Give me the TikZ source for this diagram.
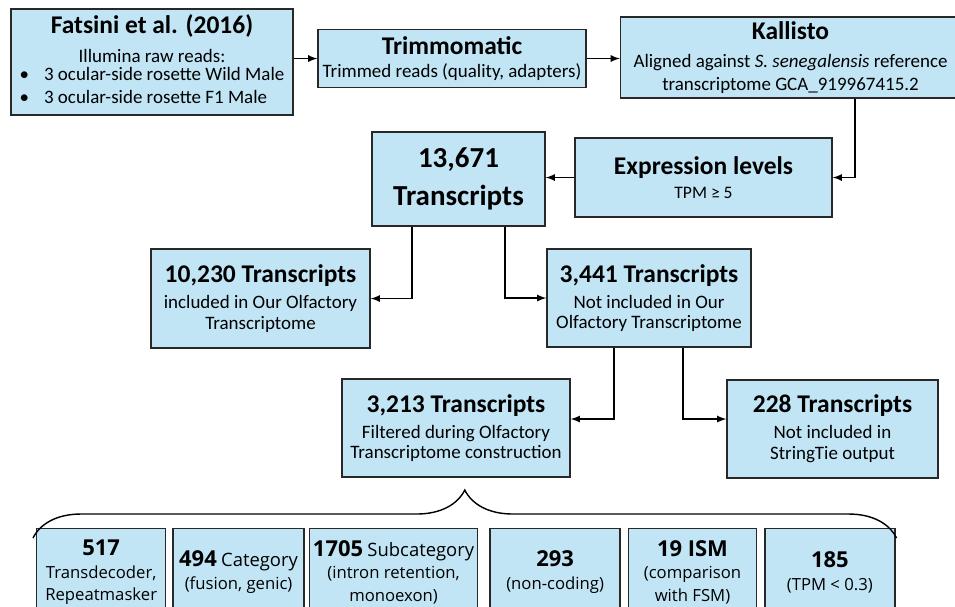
\documentclass[tikz,border=0pt]{standalone}
\usepackage{fontspec}
\setmainfont{Carlito}
\newfontfamily\lowfont{Open Sans}
\usetikzlibrary{
arrows,
arrows.meta,
calc,
decorations.pathreplacing,
positioning,
shapes
}
\tikzset{>=latex}
\definecolor{boxblue}{RGB}{193,229,245}
\definecolor{boxline}{RGB}{40,40,40}
\newcommand{\boxtitle}[1]{{\fontsize{14.5}{16}\selectfont\bfseries #1}}
\newcommand{\numtitle}[1]{{\fontsize{12.5}{15}\selectfont\bfseries #1}}

\begin{document}
\begin{tikzpicture}[x=0.02cm, y=-0.02cm, font=\fontsize{10.8}{11.8}\selectfont,
		stage/.style={draw=boxline,fill=boxblue,line width=0.8pt,align=center,inner sep=2pt},
		catbox/.style={stage,anchor=north west,minimum height=1.74cm,font=\lowfont\fontsize{9.5}{13}\selectfont},
		link/.style={->,line width=0.8pt}]
		\useasboundingbox (0,0) rectangle (955,606);

		% pipeline
		\node[stage,minimum width=5.64cm,minimum height=2.12cm] (fats) at (152,62)
			{\boxtitle{Fatsini et al. (2016)}\\[5pt] Illumina raw reads:\\[1pt]
			\begin{tabular}{@{}l@{}}\textbullet\hspace{0.3cm}3 ocular-side rosette Wild Male\\[1pt] \textbullet\hspace{0.3cm}3 ocular-side rosette F1 Male\end{tabular}};
		\node[stage,minimum width=5.36cm,minimum height=1.16cm] (trim) at (452,58.5)
			{\boxtitle{Trimmomatic}\\[1pt] Trimmed reads (quality, adapters)};
		\node[stage,minimum width=6.8cm,minimum height=1.62cm] (kall) at (790.5,57.5)
			{\boxtitle{Kallisto}\\[4pt] Aligned against \textit{S. senegalensis} reference\\[1pt] transcriptome GCA\_919967415.2};
		\node[stage,minimum width=5.14cm,minimum height=1.58cm] (expr) at (703.5,177.5)
			{\boxtitle{Expression levels}\\[2pt] {\fontsize{10}{12}\selectfont TPM ≥ 5}};
		\node[stage,minimum width=3.46cm,minimum height=1.88cm,font=\fontsize{16.5}{22}\selectfont\bfseries] (tot) at (458.5,179)
			{13,671\\ Transcripts};

		% split of the transcripts
		\node[stage,minimum width=4.38cm,minimum height=1.98cm] (inc) at (260.5,298.5)
			{\boxtitle{10,230 Transcripts}\\[3pt] included in Our Olfactory\\ Transcriptome};
		\node[stage,minimum width=4.08cm,minimum height=1.96cm] (notinc) at (649,298)
			{\boxtitle{3,441 Transcripts}\\[3pt] Not included in Our\\ Olfactory Transcriptome};
		\node[stage,minimum width=4.56cm,minimum height=1.96cm] (filt) at (456,428)
			{\boxtitle{3,213 Transcripts}\\[3pt] Filtered during Olfactory\\ Transcriptome construction};
		\node[stage,minimum width=4.22cm,minimum height=1.96cm] (strtie) at (832.5,429)
			{\boxtitle{228 Transcripts}\\[3pt] Not included in\\ StringTie output};

		% filtered categories
		\node[catbox,minimum width=2.58cm] (c517) at (36,528) {\numtitle{517}\\ Transdecoder,\\ Repeatmasker};
		\node[catbox,minimum width=2.62cm,right=0.12cm of c517.north east,anchor=north west] (c494)
			{\numtitle{494} {\fontsize{10.5}{13}\selectfont Category}\\ (fusion, genic)};
		\node[catbox,minimum width=3.36cm,right=0.08cm of c494.north east,anchor=north west] (c1705)
			{\numtitle{1705} {\fontsize{10.5}{13}\selectfont Subcategory}\\ (intron retention,\\ monoexon)};
		\node[catbox,minimum width=2.6cm,right=0.22cm of c1705.north east,anchor=north west] (c293)
			{\numtitle{293}\\ (non-coding)};
		\node[catbox,minimum width=2.56cm,right=0.14cm of c293.north east,anchor=north west] (c19)
			{\numtitle{19 ISM}\\ (comparison\\ with FSM)};
		\node[catbox,minimum width=2.6cm,right=0.14cm of c19.north east,anchor=north west] (c185)
			{\numtitle{185}\\ (TPM < 0.3)};

		% arrows
		\draw[link] (fats.east |- trim.west) -- (trim.west);
		\draw[link] (trim.east) -- (trim.east -| kall.west);
		\draw[link] ($(kall.south)+(64.5,0)$) |- (expr.east);
		\draw[link] (expr.west) -- (expr.west -| tot.east);
		\draw[link] ($(tot.south)+(-46.5,0)$) |- (inc.east);
		\draw[link] ($(tot.south)+(46.5,0)$) |- (notinc.west);
		\draw[link] ($(notinc.south)+(-35,0)$) |- ($(filt.east)+(0,-9)$);
		\draw[link] ($(notinc.south)+(34,0)$) |- ($(strtie.west)+(0,-10)$);

		% brace
		\draw[line width=0.8pt,decorate,decoration={brace,amplitude=0.96cm}]
			($(c517.north west)+(-3,10)$) -- ($(c185.north east)+(1,10)$);
\end{tikzpicture}
\end{document}
